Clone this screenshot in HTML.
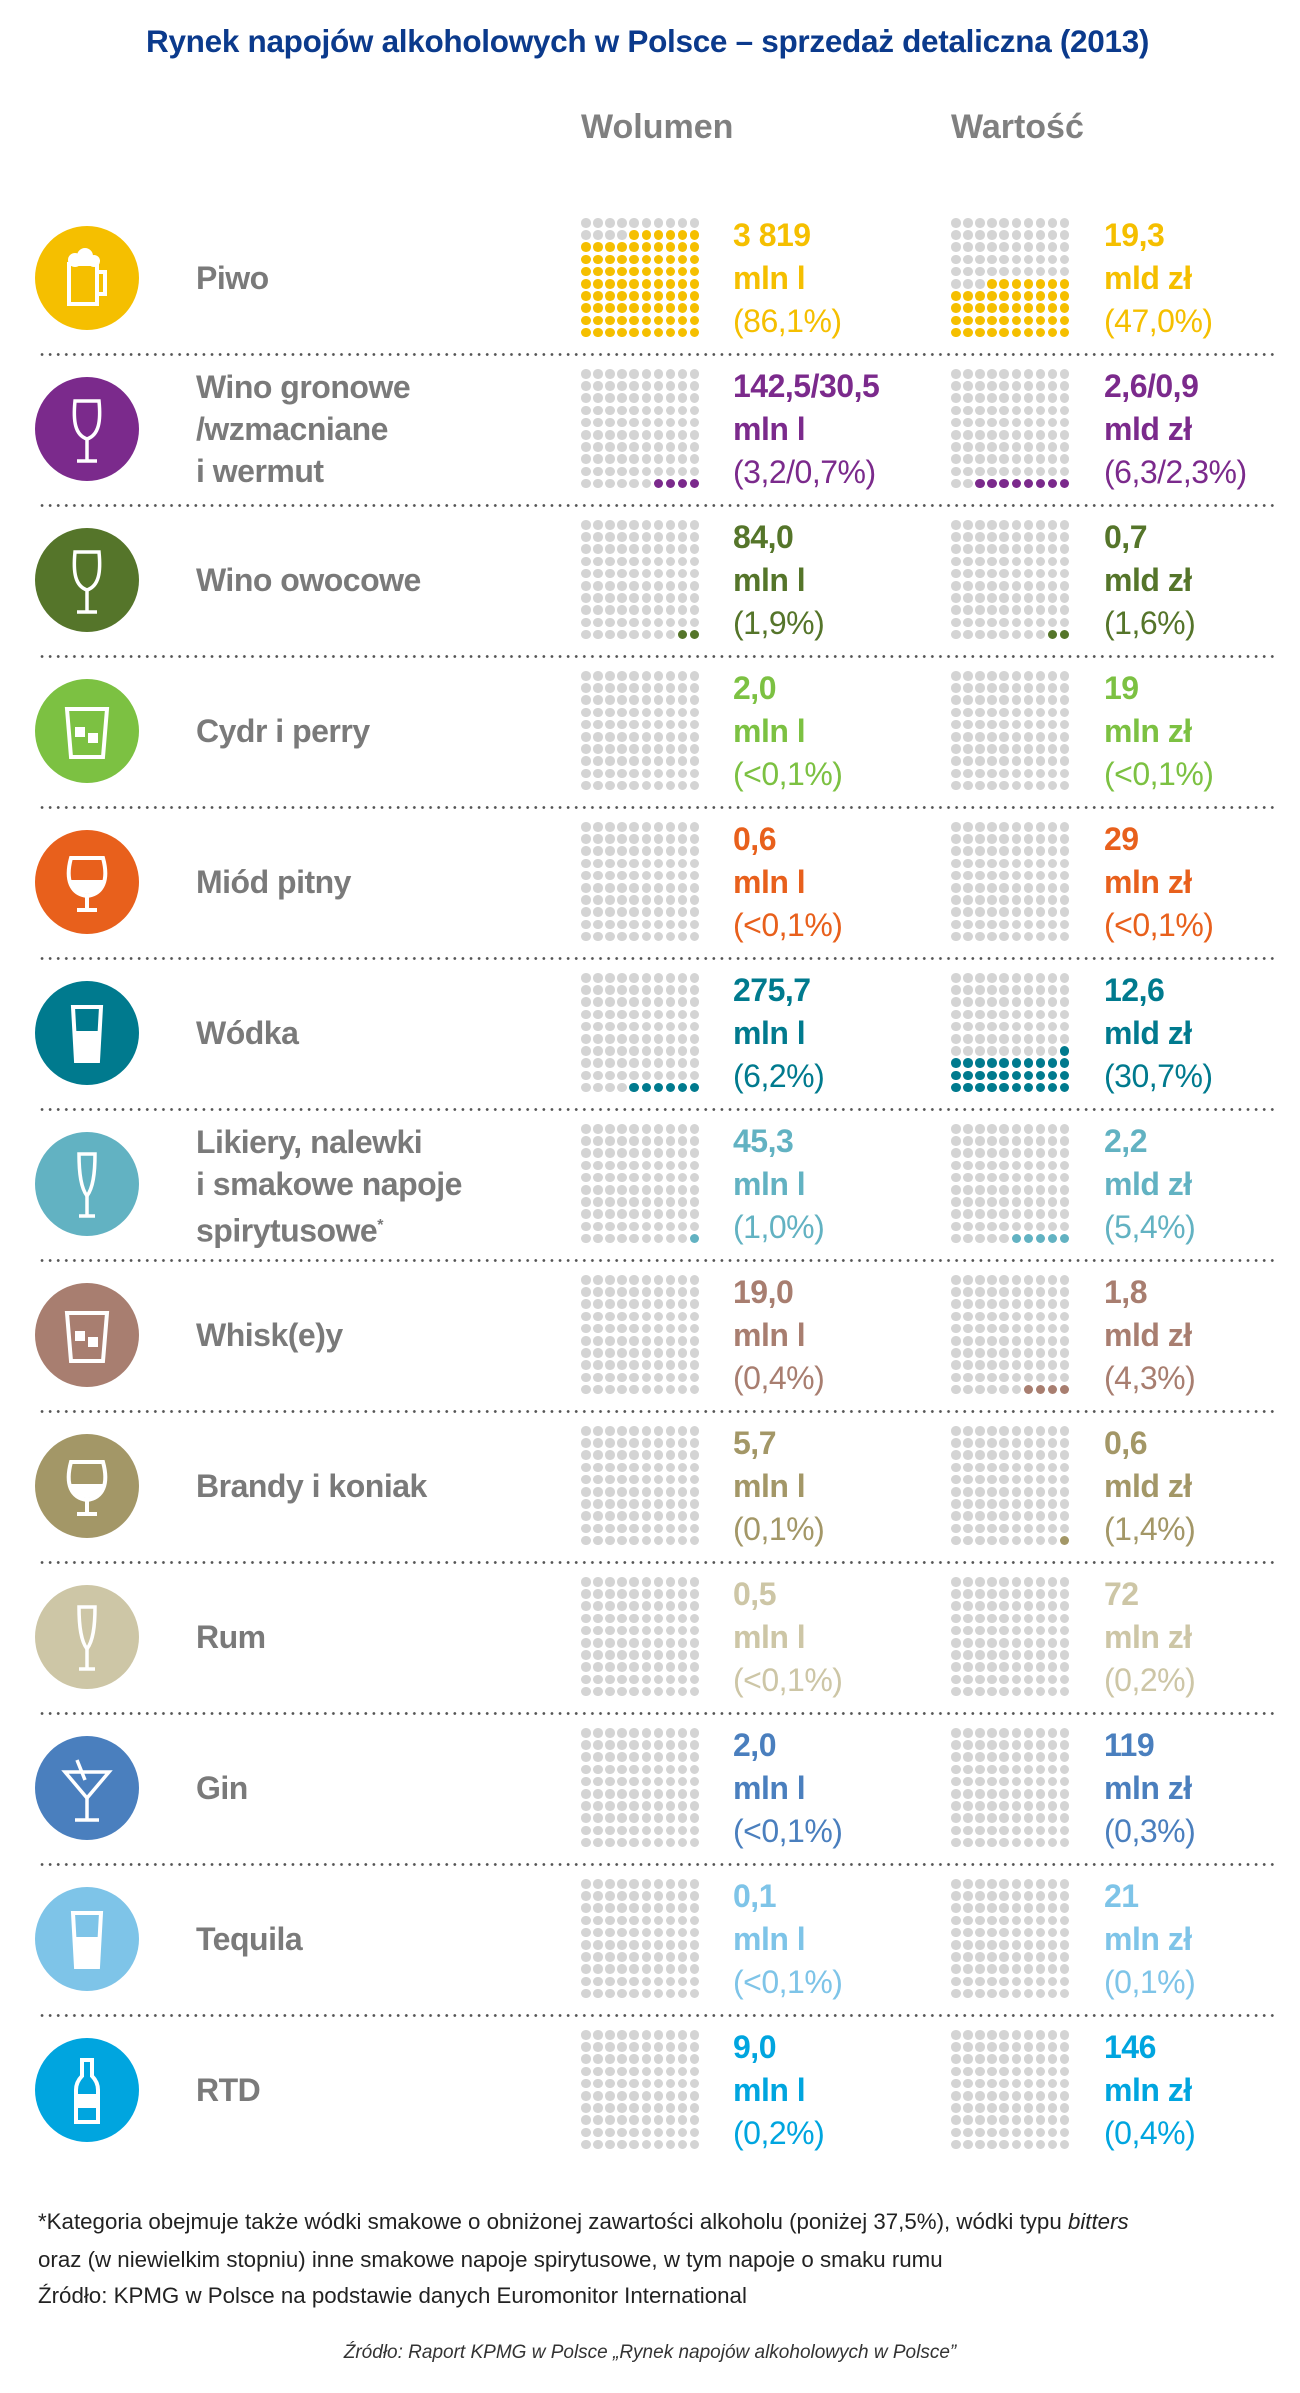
<!DOCTYPE html>
<html><head><meta charset="utf-8">
<style>
html,body{margin:0;padding:0;background:#fff;}
body{width:1300px;height:2393px;position:relative;overflow:hidden;font-family:"Liberation Sans",sans-serif;}
.t{position:absolute;white-space:nowrap;line-height:42px;height:42px;}
.b{font-weight:bold;}
.dot{position:absolute;width:9.5px;height:9.5px;border-radius:50%;}
.sep{position:absolute;left:38px;width:1240px;height:3px;background-image:radial-gradient(circle,#555 1.2px,transparent 1.6px);background-size:8.1px 3px;}
.ic{position:absolute;width:104px;height:104px;border-radius:50%;left:35px;}
.ic svg{width:104px;height:104px;}
</style></head><body>
<div class="t b" style="left:146px;top:20px;font-size:31.5px;color:#0b3a8c;letter-spacing:-0.3px;">Rynek napojów alkoholowych w Polsce – sprzedaż detaliczna (2013)</div>
<div class="t b" style="left:581px;top:106px;font-size:34px;color:#808080;">Wolumen</div>
<div class="t b" style="left:951px;top:106px;font-size:34px;color:#808080;">Wartość</div>
<div id="c"></div>
<div class="t" style="left:38px;top:2201px;font-size:22.3px;color:#222;">*Kategoria obejmuje także wódki smakowe o obniżonej zawartości alkoholu (poniżej 37,5%), wódki typu <i>bitters</i></div>
<div class="t" style="left:38px;top:2239px;font-size:22.3px;color:#222;">oraz (w niewielkim stopniu) inne smakowe napoje spirytusowe, w tym napoje o smaku rumu</div>
<div class="t" style="left:38px;top:2275px;font-size:22.3px;color:#222;">Źródło: KPMG w Polsce na podstawie danych Euromonitor International</div>
<div class="t" style="left:0;width:1300px;text-align:center;top:2332px;font-size:19px;color:#333;font-style:italic;">Źródło: Raport KPMG w Polsce „Rynek napojów alkoholowych w Polsce”</div>
<script>
var rows=[
["Piwo",["Piwo"],"#f5bf00","3 819","mln l","(86,1%)","19,3","mld zł","(47,0%)",86,47,"beer"],
["Wino",["Wino gronowe","/wzmacniane","i wermut"],"#7b2a8c","142,5/30,5","mln l","(3,2/0,7%)","2,6/0,9","mld zł","(6,3/2,3%)",4,8,"wine"],
["Owoc",["Wino owocowe"],"#55752a","84,0","mln l","(1,9%)","0,7","mld zł","(1,6%)",2,2,"wine"],
["Cydr",["Cydr i perry"],"#7cc142","2,0","mln l","(<0,1%)","19","mln zł","(<0,1%)",0,0,"glass"],
["Miod",["Miód pitny"],"#e8601c","0,6","mln l","(<0,1%)","29","mln zł","(<0,1%)",0,0,"snifter"],
["Wodka",["Wódka"],"#007a8e","275,7","mln l","(6,2%)","12,6","mld zł","(30,7%)",6,31,"shot"],
["Lik",["Likiery, nalewki","i smakowe napoje","spirytusowe<sup style='font-size:16px'>*</sup>"],"#62b2c2","45,3","mln l","(1,0%)","2,2","mld zł","(5,4%)",1,5,"flute"],
["Whisky",["Whisk(e)y"],"#a87e70","19,0","mln l","(0,4%)","1,8","mld zł","(4,3%)",0,4,"glass"],
["Brandy",["Brandy i koniak"],"#a39767","5,7","mln l","(0,1%)","0,6","mld zł","(1,4%)",0,1,"snifter"],
["Rum",["Rum"],"#cdc6a6","0,5","mln l","(<0,1%)","72","mln zł","(0,2%)",0,0,"flute"],
["Gin",["Gin"],"#4a7fbe","2,0","mln l","(<0,1%)","119","mln zł","(0,3%)",0,0,"martini"],
["Teq",["Tequila"],"#7ec4e8","0,1","mln l","(<0,1%)","21","mln zł","(0,1%)",0,0,"shot"],
["RTD",["RTD"],"#00a5df","9,0","mln l","(0,2%)","146","mln zł","(0,4%)",0,0,"bottle"]
];
var icons={
beer:'<rect x="34" y="38" width="28" height="40" fill="none" stroke="#fff" stroke-width="4"/><path d="M62 46h8v22h-8" fill="none" stroke="#fff" stroke-width="4"/><circle cx="40" cy="34" r="7" fill="#fff"/><circle cx="50" cy="30" r="8" fill="#fff"/><circle cx="59" cy="35" r="6" fill="#fff"/>',
wine:'<path d="M40 24h24c2 20 0 34-12 38c-12-4-14-18-12-38z" fill="none" stroke="#fff" stroke-width="3.5"/><path d="M52 62v22M42 84h20" stroke="#fff" stroke-width="3.5"/>',
glass:'<path d="M32 30h40l-4 48h-32z" fill="none" stroke="#fff" stroke-width="4"/><rect x="40" y="48" width="10" height="10" fill="#fff"/><rect x="53" y="54" width="10" height="10" fill="#fff"/>',
snifter:'<path d="M36 28h32c6 22 0 36-16 38c-16-2-22-16-16-38z" fill="none" stroke="#fff" stroke-width="4"/><path d="M52 66v14M42 80h20" stroke="#fff" stroke-width="4"/><path d="M36 50h32c-2 10-8 14-16 14s-14-4-16-14z" fill="#fff"/>',
shot:'<path d="M38 26h28l-3 54h-22z" fill="none" stroke="#fff" stroke-width="4"/><path d="M39 50h26l-2 30h-22z" fill="#fff"/>',
flute:'<path d="M44 22h16c0 20-2 34-8 42c-6-8-8-22-8-42z" fill="none" stroke="#fff" stroke-width="3.5"/><path d="M52 64v20M44 84h16" stroke="#fff" stroke-width="3.5"/>',
martini:'<path d="M30 36h44l-22 26z" fill="none" stroke="#fff" stroke-width="3.5"/><path d="M52 62v22M40 84h24M42 24l8 20" stroke="#fff" stroke-width="3.5"/>',
bottle:'<path d="M47 22h10v16c4 4 6 8 6 14v32h-22v-32c0-6 2-10 6-14z" fill="none" stroke="#fff" stroke-width="4"/><rect x="43" y="56" width="18" height="14" fill="#fff"/>'
};
var h='';
function grid(x0,cy,n,col){
 var s='';
 for(var r=0;r<10;r++)for(var c=0;c<10;c++){
  var idx=(9-r)*10+(9-c);
  var f=idx<n;
  s+='<div class="dot" style="left:'+(x0+c*12.1).toFixed(1)+'px;top:'+(cy-60+r*12.2).toFixed(1)+'px;background:'+(f?col:'#d4d4d4')+'"></div>';
 }
 return s;
}
rows.forEach(function(d,i){
 var cy=278+151*i;
 var col=d[2];
 h+='<div class="ic" style="top:'+(cy-52)+'px;background:'+col+'"><svg viewBox="0 0 104 104">'+icons[d[11]]+'</svg></div>';
 var L=d[1];
 for(var k=0;k<L.length;k++){
  var y=cy-21+(k-(L.length-1)/2)*42;
  h+='<div class="t b" style="left:196px;top:'+y+'px;font-size:32px;color:#7a7a7a;letter-spacing:-0.5px">'+L[k]+'</div>';
 }
 h+=grid(581,cy,d[9],col)+grid(951,cy,d[10],col);
 [[733,3],[1104,6]].forEach(function(p){
  h+='<div class="t b" style="left:'+p[0]+'px;top:'+(cy-64)+'px;font-size:32px;color:'+col+';letter-spacing:-0.5px">'+d[p[1]]+'</div>';
  h+='<div class="t b" style="left:'+p[0]+'px;top:'+(cy-21)+'px;font-size:32px;color:'+col+';letter-spacing:-0.5px">'+d[p[1]+1]+'</div>';
  h+='<div class="t" style="left:'+p[0]+'px;top:'+(cy+22)+'px;font-size:32px;color:'+col+';letter-spacing:-0.5px">'+d[p[1]+2].replace('<','&lt;')+'</div>';
 });
 if(i<12)h+='<div class="sep" style="top:'+(cy+75)+'px"></div>';
});
document.getElementById('c').innerHTML=h;
</script>
</body></html>
